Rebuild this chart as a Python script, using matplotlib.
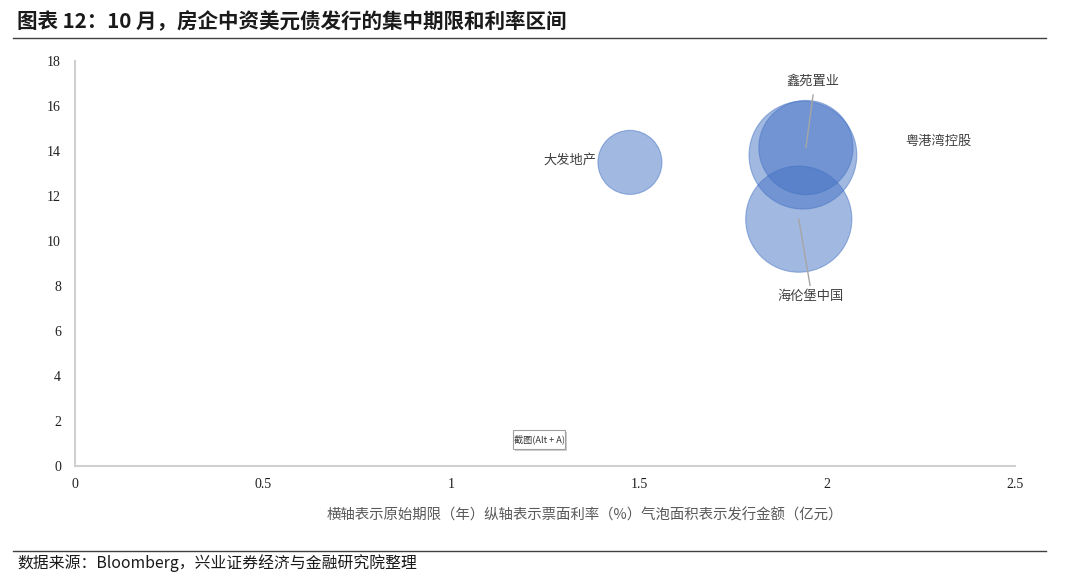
import matplotlib.pyplot as plt
from matplotlib.patches import FancyBboxPatch

plt.rcParams['font.family'] = ['Noto Sans CJK SC', 'DejaVu Sans']

# bubble data: term (years), coupon (%), issue size (100m CNY)
names = ['大发地产', '鑫苑置业', '粤港湾控股', '海伦堡中国']
term_years = [1.476, 1.944, 1.936, 1.925]
coupon_pct = [13.5, 14.16, 13.82, 10.98]
issue_amt = [12.0, 26.0, 34.0, 33.0]

x_ticks = [0, 0.5, 1, 1.5, 2, 2.5]
x_tick_labels = ['0', '0.5', '1', '1.5', '2', '2.5']
y_ticks = [0, 2, 4, 6, 8, 10, 12, 14, 16, 18]

bubble_scale = 177.0
blue = '#4472C4'
axis_grey = '#D0D0D0'
label_grey = '#404040'

fig = plt.figure(figsize=(10.8, 5.75), dpi=100)
ax = fig.add_axes([0.0694, 0.1887, 0.8704, 0.7052])

sizes = [a * bubble_scale for a in issue_amt]
ax.scatter(term_years, coupon_pct, s=sizes, color=blue, alpha=0.5,
           edgecolors=blue, linewidths=0.8, zorder=3)

ax.set_xlim(0, 2.5)
ax.set_ylim(0, 18)
ax.set_xticks(x_ticks)
ax.set_xticklabels(x_tick_labels)
ax.set_yticks(y_ticks)
for lab in ax.get_xticklabels() + ax.get_yticklabels():
    lab.set_family('Liberation Serif')
    lab.set_fontsize(10)
    lab.set_color('#202020')
ax.tick_params(axis='both', length=0)
ax.tick_params(axis='x', pad=8)
ax.tick_params(axis='y', pad=10)

for side in ['top', 'right']:
    ax.spines[side].set_visible(False)
for side in ['left', 'bottom']:
    ax.spines[side].set_color(axis_grey)
    ax.spines[side].set_linewidth(1.5)

# data labels
ax.text(1.388, 13.6, names[0], ha='right', va='center', fontsize=9.5, color=label_grey)
ax.text(1.963, 17.1, names[1], ha='center', va='center', fontsize=9.5, color=label_grey)
ax.plot([1.963, term_years[1]], [16.49, coupon_pct[1]], color='#A6A6A6', lw=1.0, zorder=4)
ax.text(2.295, 14.44, names[2], ha='center', va='center', fontsize=9.5, color=label_grey)
ax.text(1.957, 7.56, names[3], ha='center', va='center', fontsize=9.5, color=label_grey)
ax.plot([term_years[3], 1.955], [coupon_pct[3], 8.04], color='#A6A6A6', lw=1.0, zorder=4)

# screenshot tooltip left in the source image
fig.add_artist(FancyBboxPatch((515 / 1080, 1 - 451 / 575), 52 / 1080, 19 / 575,
                              boxstyle='square,pad=0', transform=fig.transFigure,
                              fc='#CFCFCF', ec='none'))
fig.add_artist(FancyBboxPatch((513 / 1080, 1 - 449 / 575), 52 / 1080, 19 / 575,
                              boxstyle='square,pad=0', transform=fig.transFigure,
                              fc='white', ec='#A0A0A0', lw=0.8))
fig.text(539 / 1080, 1 - 439.5 / 575, '截图(Alt + A)', ha='center', va='center',
         fontsize=6.6, color='#333333')

fig.text(585 / 1080, 1 - 515 / 575, '横轴表示原始期限（年）纵轴表示票面利率（%）气泡面积表示发行金额（亿元）',
         ha='center', va='center', fontsize=10.4, color='#595959')

fig.text(17 / 1080, 1 - 22 / 575, '图表 12：10 月，房企中资美元债发行的集中期限和利率区间',
         ha='left', va='center', fontsize=14.8, fontweight='bold', color='#1A1A1A')
fig.add_artist(plt.Line2D([13 / 1080, 1046 / 1080], [1 - 37.5 / 575, 1 - 37.5 / 575],
                          color='#404040', lw=1.0))

fig.add_artist(plt.Line2D([13 / 1080, 1046 / 1080], [1 - 551 / 575, 1 - 551 / 575],
                          color='#404040', lw=1.0))
fig.text(17 / 1080, 1 - 563 / 575, '数据来源：Bloomberg，兴业证券经济与金融研究院整理',
         ha='left', va='center', fontsize=11.4, color='#1A1A1A')

fig.savefig('out.png', dpi=100)
